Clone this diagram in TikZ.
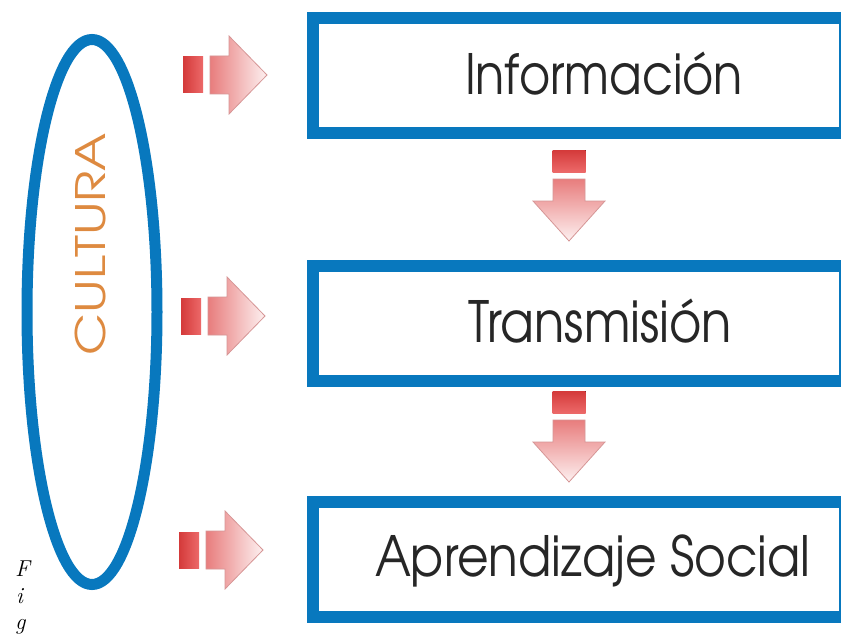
\documentclass[tikz,border=0pt]{standalone}
\usepackage{fontspec}
\newfontfamily\gothic{TeX Gyre Adventor}
\usetikzlibrary{shapes.geometric}
\definecolor{boxblue}{RGB}{8,120,190}
\definecolor{cultorange}{RGB}{222,138,64}
\definecolor{blockred}{RGB}{212,58,58}
\definecolor{blockred2}{RGB}{236,105,105}
\definecolor{arrpink}{RGB}{232,125,125}
\definecolor{arrlight}{RGB}{253,240,240}
\definecolor{arredge}{RGB}{214,150,150}
\newcommand{\fitted}[3]{\resizebox{#1}{#2}{\setbox0\hbox{I}\raisebox{0pt}[\ht0][0pt]{#3}}}
\tikzset{
  bluebox/.style={draw=boxblue, line width=12pt, rectangle, minimum width=532pt,
    minimum height=115pt, inner sep=0pt, outer sep=0pt, anchor=north west},
  boxlabel/.style={inner sep=0pt, outer sep=0pt, anchor=south west, font=\gothic, text=black!85},
  figletter/.style={inner sep=0pt, anchor=base west, font=\fontsize{23pt}{23pt}\selectfont\itshape},
  rarrow/.pic={
    \fill[left color=blockred, right color=blockred2] (0,-18) rectangle (20,18);
    \draw[draw=arredge, line width=0.8pt, left color=arrpink, right color=arrlight]
      (27,-19) -- (46,-19) -- (46,-39) -- (84,0) -- (46,39) -- (46,19) -- (27,19) -- cycle;
  },
  darrow/.pic={
    \fill[top color=blockred, bottom color=blockred2] (-16.5,0) rectangle (16.5,22);
    \draw[draw=arredge, line width=0.8pt, top color=arrpink, bottom color=arrlight]
      (-16,29) -- (16,29) -- (16,51) -- (36,51) -- (0,91) -- (-36,51) -- (-16,51) -- cycle;
  }
}
\begin{document}
\begin{tikzpicture}[x=1pt, y=-1pt]
\fill[white] (0,0) rectangle (841,634);
\useasboundingbox (0,0) rectangle (841,634);

% ellipse
\node[ellipse, draw=boxblue, line width=11pt, minimum width=130pt, minimum height=545pt,
  inner sep=0pt, outer sep=0pt] (cult) at (92,312) {};
\node[rotate=90, anchor=south west, inner sep=0pt, outer sep=0pt, font=\gothic, text=cultorange]
  (cultxt) at (105,355) {\fitted{222pt}{30pt}{CULTURA}};

% boxes
\node[bluebox] (b1) at (313,18) {};
\node[bluebox] (b2) at (313,266) {};
\node[bluebox] (b3) at (313,502) {};

\node[boxlabel] (t1) at (465,95) {\fitted{278pt}{41pt}{Información}};
\node[boxlabel] (t2) at (468,342) {\fitted{264pt}{42pt}{Transmisión}};
\node[boxlabel] (t3) at (375,576) {\fitted{435pt}{41pt}{Aprendizaje Social}};

% right arrows
\pic (ra1) at (183,75) {rarrow};
\pic (ra2) at (181,316) {rarrow};
\pic (ra3) at (179,550) {rarrow};

% down arrows
\pic (da1) at (569,150) {darrow};
\pic (da2) at (569,391) {darrow};

% Fig letters
\node[figletter] (f1) at (15,576) {F};
\node[figletter] (f2) at (16,603) {i};
\node[figletter] (f3) at (15,629) {g};
\end{tikzpicture}
\end{document}
